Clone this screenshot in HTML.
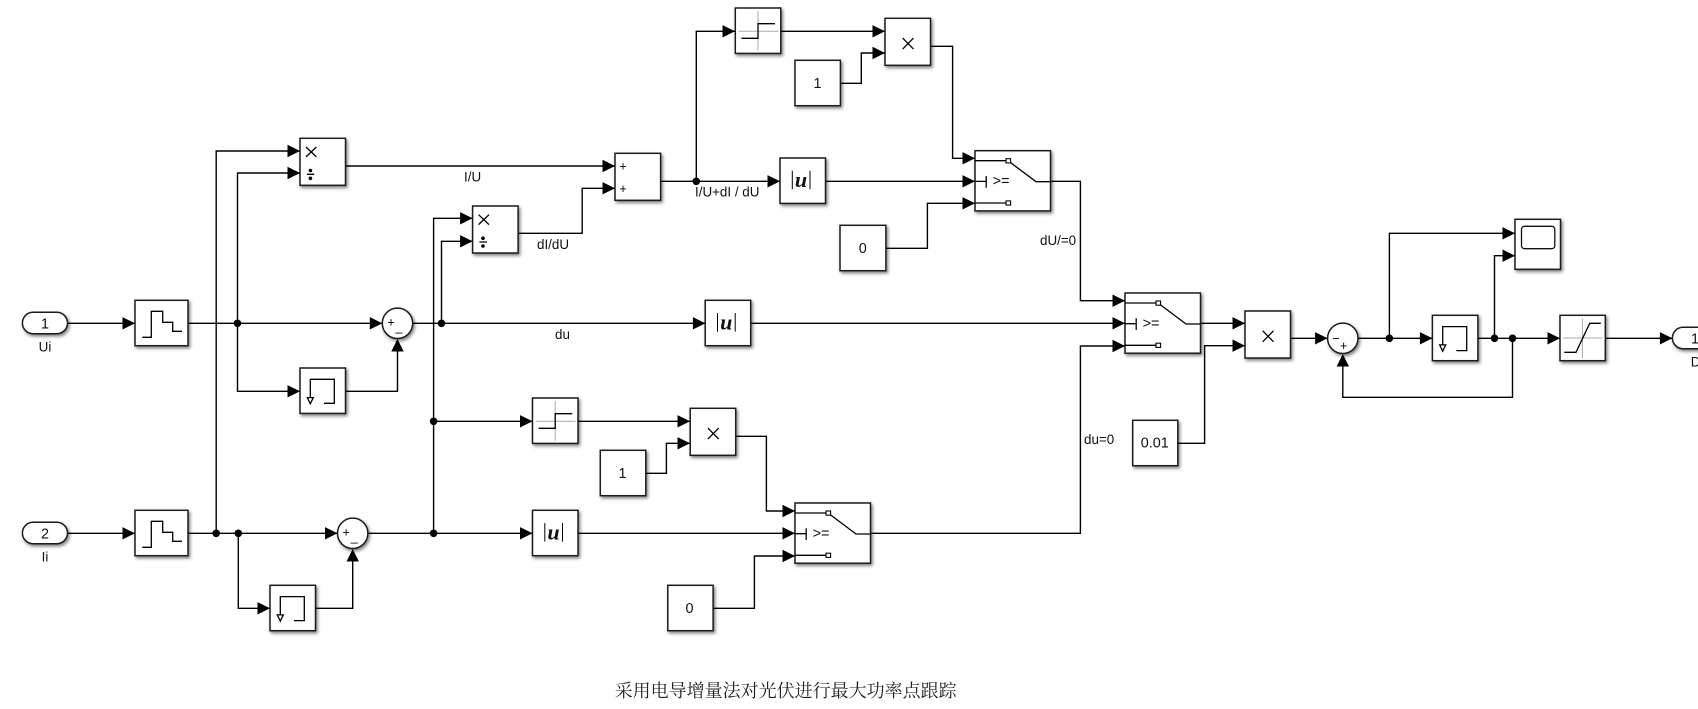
<!DOCTYPE html>
<html>
<head>
<meta charset="utf-8">
<style>
html,body{margin:0;padding:0;background:#fff;}
svg{display:block;}
.b{fill:#fff;stroke:#1c1c1c;stroke-width:1.5;filter:url(#s);}
.w{fill:none;stroke:#000;stroke-width:1.4;}
.i{fill:none;stroke:#000;stroke-width:1.3;}
.g{fill:none;stroke:#aaa;stroke-width:1;}
text{font-family:"Liberation Sans","Noto Sans CJK SC",sans-serif;font-size:13.4px;fill:#111;}
.m{text-anchor:middle;}
.n{font-size:14.4px;text-anchor:middle;}
.t{font-family:"Liberation Serif","Noto Serif CJK SC",serif;font-size:18px;fill:#222;}
.u{font-family:"Liberation Serif",serif;font-style:italic;font-weight:bold;font-size:22px;text-anchor:middle;fill:#111;}
.p{font-size:12.5px;text-anchor:middle;fill:#000;}
</style>
</head>
<body>
<svg width="1698" height="709" viewBox="0 0 1698 709" xmlns="http://www.w3.org/2000/svg">
<defs>
<filter id="s" x="-20%" y="-20%" width="150%" height="150%"><feDropShadow dx="1.5" dy="2" stdDeviation="1.6" flood-color="#000" flood-opacity="0.5"/></filter>
<path id="ar" d="M-12.5-6.2L0 0L-12.5 6.2z" fill="#000"/>
<path id="au" d="M-6.2 12.5L0 0L6.2 12.5z" fill="#000"/>
<circle id="j" r="3.8" fill="#000"/>
<g id="zoh"><rect class="b" width="53" height="45.4"/><path class="i" d="M7.3 37H16.3V11H27.7V22H37.7V31H47"/></g>
<g id="mem"><rect class="b" width="45.5" height="45.4"/><path class="i" d="M10.3 29.3V11.3H34.3V35.3H24"/><path class="i" stroke-width="1" d="M7.3 29.6H13.3L10.3 35.8z"/></g>
<g id="sgn"><rect class="b" width="45.5" height="45.4"/><path class="g" d="M22.7 3V42.7M3.2 23.3H43"/><path class="i" d="M6.1 30.3H22.7V15.7H39.7"/></g>
<g id="abs"><rect class="b" width="45.5" height="45.4"/><path class="i" style="stroke-width:1" d="M12.3 12.7V31.3M30 12.7V31.3"/><text class="u" x="21" y="29">u</text></g>
<g id="div"><rect class="b" width="45.5" height="47"/><path class="i" d="M6 8.7L16.4 18.6M16.4 8.7L6 18.6M6.8 36H14.2"/><circle cx="10.4" cy="32.2" r="1.8" fill="#000"/><circle cx="10.4" cy="40" r="1.8" fill="#000"/></g>
<g id="mul"><rect class="b" width="45.5" height="47"/><path class="i" d="M17.7 19.8L28.5 30.8M28.5 19.8L17.7 30.8"/></g>
<g id="sw"><rect class="b" width="75.5" height="60.2"/><path class="i" d="M0 10H31M0 52.3H31M0 30.7H11.2M11.2 25.3V37M35.7 12L61 31H75.5"/><rect x="31" y="8" width="4.6" height="4.2" fill="#fff" stroke="#000" stroke-width="1.1"/><rect x="31" y="50.2" width="4.6" height="4.2" fill="#fff" stroke="#000" stroke-width="1.1"/><text x="17.6" y="35" style="font-size:14.5px">&gt;=</text></g>
</defs>
<rect width="1698" height="709" fill="#fff"/>

<!-- wires -->
<path class="w" d="M67.5 323.3H135M188 323.3H382M237.5 323.3V173H300M237.5 323.3V391.3H300M345.5 391.3H397.5V345M216.2 533.3V151H300M67.5 533.3H135M188 533.3H337.5M238.3 533.3V608.3H270M315.5 608.3H352.7V555M412.6 323.3H705.4M433.6 533.3V218.3H472.6M441.5 323.3V241.3H472.6M367.9 533.3H532.5M433.6 421.3H532.5M345.5 166H615M518 233.3H582.2V188.3H615M660.6 181.3H780M696.3 181.3V31.3H735M781 31.3H885M840.4 83.3H861.3V53H885M930.6 46.3H952.6V158.3H975M825.6 181.3H975M885.9 248.3H927.4V203.3H975M1050.5 181.3H1080.4V300.7H1125M750.5 323.3H1125M578 421.3H690M645.8 473.3H666.4V443.3H690M735.7 436.3H766.4V511H795M578 533.3H795M713 608.3H754.4V556H795M870.3 533.3H1080.4V346H1125M1200.2 323.3H1245M1177.8 443.3H1204.6V345.7H1245M1290.5 338.3H1327.6M1358 338.3H1432.4M1389.4 338.3V233.3H1515M1477.8 338.3H1560M1494.5 338.3V255.7H1515M1512.5 338.3V397.3H1342.8V360M1605.3 338.3H1672.4"/>

<!-- ports -->
<rect class="b" x="22.4" y="312.3" width="45.1" height="21.4" rx="10.7"/>
<text class="n" x="45" y="328.5">1</text>
<text class="m" x="45" y="351.7">Ui</text>
<rect class="b" x="22.4" y="522.3" width="45.1" height="21.4" rx="10.7"/>
<text class="n" x="45" y="538.5">2</text>
<text class="m" x="45" y="561.7">Ii</text>
<rect class="b" x="1672.4" y="327.3" width="60" height="21.4" rx="10.7"/>
<text class="n" x="1695" y="343.5">1</text>
<text x="1690.8" y="366.7">D</text>

<!-- blocks -->
<use href="#zoh" x="135" y="300.3"/>
<use href="#zoh" x="135" y="510.3"/>
<use href="#mem" x="300" y="368"/>
<use href="#mem" x="270" y="585.3"/>
<use href="#mem" x="1432.4" y="315.3"/>
<use href="#div" x="300" y="138.3"/>
<use href="#div" x="472.6" y="206"/>
<use href="#sgn" x="735.3" y="8"/>
<use href="#sgn" x="532.5" y="398"/>
<use href="#mul" x="885" y="18.3"/>
<use href="#mul" x="690.2" y="408.3"/>
<use href="#mul" x="1245" y="311"/>
<use href="#abs" x="780" y="158"/>
<use href="#abs" x="705.2" y="300.3"/>
<use href="#abs" x="532.5" y="510.3"/>
<use href="#sw" x="975" y="150.7"/>
<use href="#sw" x="1125" y="293"/>
<use href="#sw" x="795" y="503"/>

<!-- add block -->
<rect class="b" x="615" y="153.3" width="45.6" height="47"/>
<text class="p" x="623" y="170.3">+</text>
<text class="p" x="623" y="193">+</text>

<!-- constants -->
<rect class="b" x="795" y="60.3" width="45.4" height="45.4"/><text class="n" x="817.5" y="88">1</text>
<rect class="b" x="840" y="225.3" width="45.9" height="45.4"/><text class="n" x="862.7" y="253">0</text>
<rect class="b" x="600.3" y="450.3" width="45.5" height="45.4"/><text class="n" x="622.5" y="478">1</text>
<rect class="b" x="667.8" y="585.3" width="45.3" height="45.4"/><text class="n" x="689.5" y="613">0</text>
<rect class="b" x="1132.7" y="420.3" width="45.1" height="45.4"/><text class="n" x="1154.8" y="447.5">0.01</text>

<!-- sums -->
<circle class="b" cx="397.5" cy="323.3" r="15.2"/><text class="p" x="391" y="326.5">+</text><text class="p" x="399" y="331">_</text>
<circle class="b" cx="352.7" cy="533.3" r="15.2"/><text class="p" x="346.2" y="536.5">+</text><text class="p" x="354.2" y="541">_</text>
<circle class="b" cx="1342.8" cy="338.3" r="15.2"/><text class="p" x="1336" y="342.3">−</text><text class="p" x="1343.6" y="350">+</text>

<!-- scope -->
<rect class="b" x="1515" y="219.3" width="45.5" height="50"/>
<rect x="1521.5" y="226.3" width="33.3" height="22.4" rx="3" fill="#fff" stroke="#111" stroke-width="1.3"/>

<!-- saturation -->
<rect class="b" x="1560" y="315.3" width="45.3" height="45.4"/>
<path class="g" d="M1582.4 318.6V358M1563 338H1602.6"/>
<path class="i" d="M1564.3 352.3H1576L1589.7 323.3H1600.8"/>

<!-- junctions -->
<use href="#j" x="237.5" y="323.3"/><use href="#j" x="441.5" y="323.3"/><use href="#j" x="216.2" y="533.3"/><use href="#j" x="238.3" y="533.3"/><use href="#j" x="433.6" y="533.3"/><use href="#j" x="433.6" y="421.3"/><use href="#j" x="696.3" y="181.3"/><use href="#j" x="1389.4" y="338.3"/><use href="#j" x="1494.5" y="338.3"/><use href="#j" x="1512.5" y="338.3"/>

<!-- arrowheads -->
<use href="#ar" x="135" y="323.3"/><use href="#ar" x="300" y="151"/><use href="#ar" x="300" y="173"/><use href="#ar" x="300" y="391.3"/><use href="#ar" x="382.3" y="323.3"/><use href="#ar" x="135" y="533.3"/><use href="#ar" x="337.5" y="533.3"/><use href="#ar" x="270" y="608.3"/><use href="#ar" x="472.6" y="218.3"/><use href="#ar" x="472.6" y="241.3"/><use href="#ar" x="532.5" y="421.3"/><use href="#ar" x="532.5" y="533.3"/><use href="#ar" x="615" y="166"/><use href="#ar" x="615" y="188.3"/><use href="#ar" x="735" y="31.3"/><use href="#ar" x="885" y="31.3"/><use href="#ar" x="885" y="53"/><use href="#ar" x="780" y="181.3"/><use href="#ar" x="975" y="158.3"/><use href="#ar" x="975" y="181.3"/><use href="#ar" x="975" y="203.3"/><use href="#ar" x="705.4" y="323.3"/><use href="#ar" x="690" y="421.3"/><use href="#ar" x="690" y="443.3"/><use href="#ar" x="795" y="511"/><use href="#ar" x="795" y="533.3"/><use href="#ar" x="795" y="556"/><use href="#ar" x="1125" y="300.7"/><use href="#ar" x="1125" y="323.3"/><use href="#ar" x="1125" y="346"/><use href="#ar" x="1245" y="323.3"/><use href="#ar" x="1245" y="345.7"/><use href="#ar" x="1327.6" y="338.3"/><use href="#ar" x="1432.4" y="338.3"/><use href="#ar" x="1515" y="233.3"/><use href="#ar" x="1515" y="255.7"/><use href="#ar" x="1560" y="338.3"/><use href="#ar" x="1672.4" y="338.3"/>
<use href="#au" x="397.5" y="339"/><use href="#au" x="352.7" y="549"/><use href="#au" x="1342.8" y="354"/>

<!-- labels -->
<text class="m" x="472.6" y="181.5">I/U</text>
<text x="537" y="249">dI/dU</text>
<text x="555" y="339">du</text>
<text x="695" y="196.7">I/U+dI / dU</text>
<text x="1040" y="245">dU/=0</text>
<text x="1084" y="444">du=0</text>
<text class="t" x="614.7" y="697">采用电导增量法对光伏进行最大功率点跟踪</text>
</svg>
</body>
</html>
